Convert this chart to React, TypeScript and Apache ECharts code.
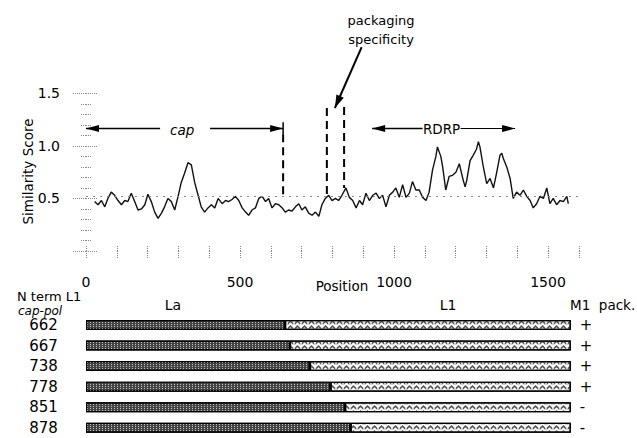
import React, { useEffect, useRef } from 'react';
import * as echarts from 'echarts';

// Similarity score along L1 position
const positions = [
  28, 39, 50, 61, 71, 82, 93, 104, 115, 126, 136, 147, 158, 169, 180, 191, 201, 212, 223, 234,
  245, 255, 266, 277, 288, 299, 309, 320, 331, 342, 353, 364, 374, 385, 396, 407, 418, 429,
  442, 453, 463, 474, 485, 496, 507, 518, 528, 539, 550, 561, 572, 583, 593, 604, 615, 626,
  637, 647, 658, 669, 680, 691, 701, 712, 723, 734, 745, 756, 766, 777, 788, 799, 810, 820, 831,
  844, 855, 866, 877, 888, 898, 909, 920, 931, 942, 952, 963, 974, 985, 996, 1006, 1017, 1028,
  1039, 1050, 1060, 1071, 1082, 1093, 1104, 1114, 1125, 1136, 1141, 1152, 1158, 1168, 1179, 1190,
  1201, 1212, 1225, 1231, 1236, 1247, 1257, 1268, 1274, 1279, 1290, 1301, 1312, 1323, 1333, 1344,
  1350, 1355, 1366, 1377, 1387, 1398, 1409, 1420, 1431, 1442, 1452, 1463, 1474, 1485, 1496, 1506,
  1517, 1528, 1539, 1550, 1561, 1566,
];
const scores = [
  0.47, 0.44, 0.48, 0.42, 0.50, 0.56, 0.53, 0.48, 0.44, 0.48, 0.47, 0.55, 0.47, 0.39, 0.40, 0.44, 0.54, 0.47, 0.37, 0.31,
  0.36, 0.42, 0.50, 0.47, 0.39, 0.52, 0.65, 0.74, 0.84, 0.82, 0.65, 0.53, 0.42, 0.37, 0.41, 0.44, 0.41, 0.50,
  0.45, 0.48, 0.47, 0.49, 0.52, 0.48, 0.41, 0.37, 0.34, 0.39, 0.41, 0.50, 0.52, 0.47, 0.50, 0.41, 0.45, 0.44,
  0.41, 0.37, 0.39, 0.38, 0.42, 0.45, 0.39, 0.42, 0.36, 0.34, 0.37, 0.33, 0.44, 0.50, 0.53, 0.48, 0.50, 0.48, 0.53,
  0.60, 0.51, 0.48, 0.41, 0.48, 0.44, 0.55, 0.48, 0.53, 0.55, 0.50, 0.53, 0.42, 0.53, 0.56, 0.60, 0.51, 0.63,
  0.51, 0.55, 0.66, 0.58, 0.58, 0.51, 0.48, 0.56, 0.77, 0.90, 0.99, 0.90, 0.80, 0.58, 0.71, 0.72,
  0.75, 0.83, 0.67, 0.61, 0.67, 0.86, 0.91, 0.97, 1.04, 0.99, 0.80, 0.64, 0.69, 0.60, 0.74, 0.91,
  0.93, 0.88, 0.80, 0.69, 0.50, 0.56, 0.53, 0.58, 0.52, 0.48, 0.41, 0.45, 0.52, 0.50, 0.60, 0.45,
  0.50, 0.44, 0.48, 0.47, 0.52, 0.45,
];
const baselineScore = 0.52;

// Constructs (N term L1 cap-pol junction) and packaging phenotype
const constructs = ['662', '667', '738', '778', '851', '878'];
const junctions = [646, 662, 727, 794, 841, 859];
const totalLength = 1574;
const packaging = ['+', '+', '+', '+', '-', '-'];

// Annotated regions (positions)
const capRegion = [0, 640];
const packRegion = [782, 838];
const rdrpRegion = [929, 1393];
const regionLevel = 1.165;

export default function App() {
  const ref = useRef<HTMLDivElement>(null);

  useEffect(() => {
    const chart = echarts.init(ref.current!, null, { renderer: 'svg' });
    const font = 'DejaVu Sans';
    const tick = { type: 'dotted', color: '#8a8a8a', width: 1 };

    const option: any = {
      animation: false,
      backgroundColor: '#fff',
      textStyle: { fontFamily: font, color: '#000' },
      grid: [
        { left: 86, top: 93.3, width: 492.8, height: 157.7 },
        { left: 86, top: 314.7, width: 492.8, height: 123.6 },
      ],
      xAxis: [
        {
          gridIndex: 0, type: 'value', min: 0, max: 1600, interval: 100, position: 'bottom', offset: 4,
          axisLine: { show: false }, splitLine: { show: false },
          axisTick: { show: true, length: 7, lineStyle: tick },
          axisLabel: {
            margin: 20, fontSize: 14, fontFamily: font, color: '#000',
            formatter: (v: number) => (v % 500 === 0 ? String(v) : ''),
          },
        },
        {
          gridIndex: 0, type: 'value', min: 0, max: 1600, interval: 100, position: 'top', offset: 5,
          axisLine: { show: false }, splitLine: { show: false },
          axisTick: { show: true, length: 6, lineStyle: tick },
          axisLabel: { show: false },
        },
        {
          gridIndex: 1, type: 'value', min: 0, max: 1600, show: false,
        },
      ],
      yAxis: [
        {
          gridIndex: 0, type: 'value', min: 0, max: 1.5, interval: 0.5, position: 'left', offset: 7,
          axisLine: { show: false }, splitLine: { show: false },
          axisTick: { show: true, length: 13, lineStyle: tick },
          minorTick: { show: true, splitNumber: 5, length: 6, lineStyle: tick },
          axisLabel: {
            margin: 19, fontSize: 14, fontFamily: font, color: '#000',
            formatter: (v: number) => (v === 0 ? '' : v.toFixed(1)),
          },
        },
        {
          gridIndex: 0, type: 'value', min: 0, max: 1.5, interval: 0.5, position: 'right', offset: 6,
          axisLine: { show: false }, splitLine: { show: false },
          axisTick: { show: true, length: 11, lineStyle: tick },
          minorTick: { show: true, splitNumber: 5, length: 6, lineStyle: tick },
          axisLabel: { show: false },
        },
        {
          gridIndex: 1, type: 'category', data: constructs, inverse: true, position: 'left',
          axisLine: { show: false }, axisTick: { show: false }, splitLine: { show: false },
          axisLabel: { margin: 42.5, align: 'center', fontSize: 15, fontFamily: font, color: '#000' },
        },
        {
          gridIndex: 1, type: 'category', data: constructs, inverse: true, position: 'right',
          axisLine: { show: false }, axisTick: { show: false }, splitLine: { show: false },
          axisLabel: {
            margin: 1, align: 'left', fontSize: 15, fontFamily: font, color: '#000',
            formatter: (_v: string, i: number) => packaging[i],
          },
        },
      ],
      series: [
        {
          type: 'line', xAxisIndex: 0, yAxisIndex: 0,
          data: positions.map((p, i) => [p, scores[i]]),
          showSymbol: false, symbol: 'none',
          lineStyle: { color: '#111', width: 1.4 },
          markLine: {
            silent: true, symbol: 'none', label: { show: false },
            lineStyle: { type: [2, 5], color: '#888', width: 1 },
            data: [{ yAxis: baselineScore }],
          },
          z: 3,
        },
        {
          name: 'La', type: 'bar', xAxisIndex: 2, yAxisIndex: 2, stack: 'len', barWidth: 10,
          data: junctions,
          itemStyle: {
            color: '#444', borderColor: '#000', borderWidth: 1.2,
            decal: {
              symbol: 'rect', symbolSize: 1, dashArrayX: [1, 2], dashArrayY: [1, 1],
              color: '#c4c4c4',
            },
          },
        },
        {
          name: 'L1', type: 'bar', xAxisIndex: 2, yAxisIndex: 2, stack: 'len', barWidth: 10,
          data: junctions.map((j) => totalLength - j),
          itemStyle: {
            color: '#fbfbfb', borderColor: '#000', borderWidth: 1.2,
            decal: {
              symbol: 'path://M0,5 L5,0 L10,5 L10,9 L5,4 L0,9 Z',
              symbolSize: 1, dashArrayX: [7, 0], dashArrayY: [5, 0],
              color: '#555',
            },
          },
        },
      ],
    };
    chart.setOption(option);

    const P = (x: number, y: number) => chart.convertToPixel({ seriesIndex: 0 }, [x, y]) as number[];
    const black = '#000';
    const line = (a: number[], b: number[], w = 1.5, dash?: number[]) => ({
      type: 'line', silent: true,
      shape: { x1: a[0], y1: a[1], x2: b[0], y2: b[1] },
      style: { stroke: black, lineWidth: w, lineDash: dash || null },
    });
    const head = (tip: number[], from: number[], len = 13, half = 3.6) => {
      const dx = tip[0] - from[0];
      const dy = tip[1] - from[1];
      const l = Math.hypot(dx, dy) || 1;
      const ux = dx / l, uy = dy / l;
      const bx = tip[0] - ux * len, by = tip[1] - uy * len;
      const nx = -uy * half, ny = ux * half;
      return {
        type: 'polygon', silent: true,
        shape: { points: [[tip[0], tip[1]], [bx + nx, by + ny], [bx - nx, by - ny]] },
        style: { fill: black },
      };
    };
    const text = (t: string, x: number, y: number, size = 13, extra: any = {}) => ({
      type: 'text', silent: true, x, y,
      style: {
        text: t, fill: black, fontSize: size, fontFamily: font,
        align: 'center', verticalAlign: 'middle', textAlign: 'center', textVerticalAlign: 'middle',
        ...extra,
      },
    });

    const lv = regionLevel;
    const capL = P(capRegion[0], lv);
    const capR = P(capRegion[1], lv);
    const capTextX = P(312, lv)[0];
    const rdL = P(rdrpRegion[0], lv);
    const rdR = P(rdrpRegion[1], lv);
    const rdTextX = (rdL[0] + rdR[0]) / 2 - 2;

    const elements: any[] = [
      // cap region arrow
      line(capL, [capTextX - 22, capL[1]]),
      head(capL, [capL[0] + 20, capL[1]]),
      text('cap', capTextX, capL[1] + 1, 13.5, { fontStyle: 'italic' }),
      line([capTextX + 28, capR[1]], capR),
      head(capR, [capR[0] - 20, capR[1]]),
      line(P(capRegion[1], 1.225), P(capRegion[1], 1.11), 1.5),
      line(P(capRegion[1], 1.11), P(capRegion[1], 0.51), 2, [8, 5]),
      // packaging specificity region
      line(P(packRegion[0], 1.36), P(packRegion[0], 0.51), 2, [8, 5]),
      line(P(packRegion[1], 1.37), P(packRegion[1], 0.6), 2, [8, 5]),
      line(P(895, 1.94), P(808, 1.36), 2),
      head(P(808, 1.36), P(895, 1.94), 13, 4),
      text('packaging', P(958, 0)[0], 20, 13),
      text('specificity', P(958, 0)[0], 39, 13),
      // RDRP region arrow
      line(rdL, [rdTextX - 19, rdL[1]]),
      head(rdL, [rdL[0] + 20, rdL[1]]),
      text('RDRP', rdTextX, rdL[1], 13.5),
      line([rdTextX + 19, rdR[1]], rdR, 1.2),
      head(rdR, [rdR[0] - 20, rdR[1]]),
      // axis titles
      text('Position', P(831, 0)[0], 286, 13.5),
      { ...text('Similarity Score', 28, 171.5, 13.5), rotation: Math.PI / 2 },
      // lower panel headers
      text('N term L1', 17, 296.5, 13, { align: 'left', textAlign: 'left' }),
      text('cap-pol', 18, 310.5, 12, { align: 'left', textAlign: 'left', fontStyle: 'italic' }),
      text('La', 173, 305, 14),
      text('L1', 448, 305, 14),
      text('M1  pack.', 570, 305, 13.5, { align: 'left', textAlign: 'left' }),
    ];
    chart.setOption({ graphic: { elements } });

    return () => chart.dispose();
  }, []);

  return (
    <div
      ref={ref}
      style={{ position: 'absolute', left: 0, top: 0, width: 637, height: 438 }}
    />
  );
}
